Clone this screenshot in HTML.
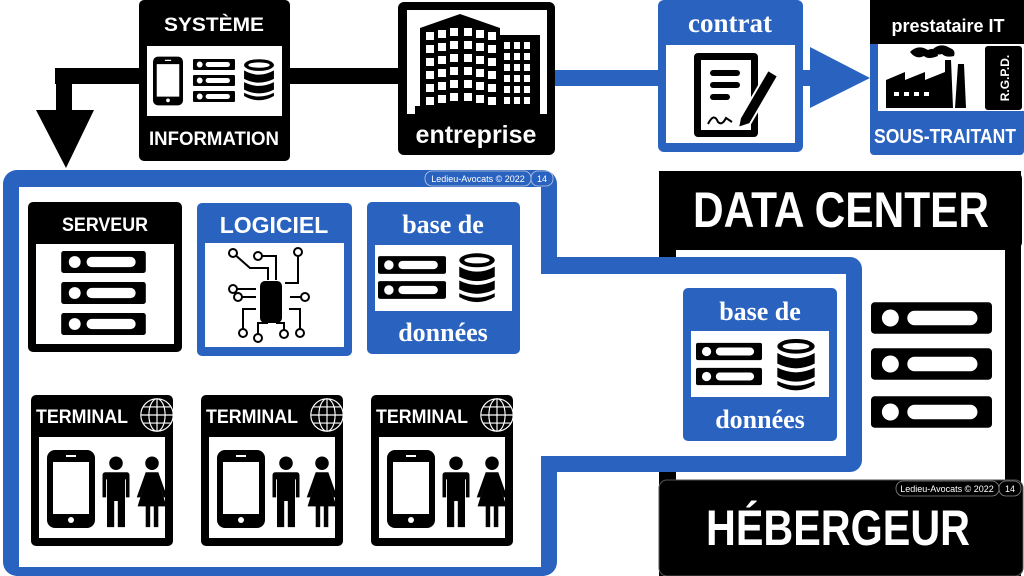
<!DOCTYPE html>
<html><head><meta charset="utf-8"><style>
html,body{margin:0;padding:0;background:#fff;width:1024px;height:576px;overflow:hidden}
svg text{font-family:"Liberation Sans",sans-serif;font-weight:bold}
.ser{font-family:"Liberation Serif",serif;font-weight:bold}
.ol{fill:#fff;font-weight:bold}
</style></head><body>
<svg width="1024" height="576" viewBox="0 0 1024 576" xmlns="http://www.w3.org/2000/svg">
<defs>
<symbol id="srv" viewBox="0 0 100 26"><rect x="0" y="0" width="100" height="26" rx="3" fill="#000"/><circle cx="16" cy="13" r="7" fill="#fff"/><rect x="30" y="7" width="58" height="12" rx="6" fill="#fff"/></symbol>
<symbol id="db" viewBox="0 0 60 80"><ellipse cx="30" cy="12" rx="28" ry="11" fill="#000"/><ellipse cx="30" cy="12" rx="20" ry="5" fill="#fff"/><path d="M2 22 Q30 38 58 22 V38 Q30 52 2 38Z" fill="#000"/><path d="M2 44 Q30 58 58 44 V58 Q30 72 2 58Z" fill="#000"/><path d="M2 64 Q30 78 58 64 V70 Q30 86 2 70Z" fill="#000"/></symbol>
<symbol id="phone" viewBox="0 0 48 78"><rect x="0" y="0" width="48" height="78" rx="8" fill="#000"/><rect x="6" y="12" width="36" height="52" fill="#fff"/><circle cx="24" cy="70" r="3" fill="#fff"/><rect x="19" y="5" width="10" height="2" fill="#fff"/></symbol>
<symbol id="man" viewBox="0 0 30 80"><circle cx="15" cy="8" r="7.5" fill="#000"/><path d="M3 18 H27 Q30 18 30 22 V46 H26 V26 H25 V79 H17 V50 H13 V79 H5 V26 H4 V46 H0 V22 Q0 18 3 18Z" fill="#000"/></symbol>
<symbol id="woman" viewBox="0 0 36 80"><circle cx="18" cy="8" r="7.5" fill="#000"/><path d="M11 18 H25 L35 46 H31 L26 30 L34 56 H25 V79 H20 V56 H16 V79 H11 V56 H2 L10 30 L5 46 H1Z" fill="#000"/></symbol>
<symbol id="globe" viewBox="0 0 40 40"><g fill="none" stroke="#fff" stroke-width="1.3"><circle cx="20" cy="20" r="18"/><ellipse cx="20" cy="20" rx="9" ry="18"/><line x1="20" y1="2" x2="20" y2="38"/><line x1="2" y1="20" x2="38" y2="20"/><line x1="5" y1="11" x2="35" y2="11"/><line x1="5" y1="29" x2="35" y2="29"/></g></symbol>
</defs>

<rect x="55" y="68" width="350" height="16" fill="#000"/>
<rect x="56" y="68" width="16" height="45" fill="#000"/>
<polygon points="36,110 94,110 66,168" fill="#000"/>
<rect x="550" y="70" width="112" height="16" fill="#2a62c0"/>
<rect x="800" y="70" width="14" height="16" fill="#2a62c0"/>
<polygon points="810,47 870,78 810,108" fill="#2a62c0"/>

<rect x="139" y="0" width="151" height="161" rx="5" fill="#000"/>
<rect x="147" y="46" width="135" height="70" fill="#fff"/>
<text x="214" y="31" text-anchor="middle" font-size="19" fill="#fff" textLength="100" lengthAdjust="spacingAndGlyphs">SYSTÈME</text>
<text x="214" y="145" text-anchor="middle" font-size="19" class="ol" textLength="130" lengthAdjust="spacingAndGlyphs">INFORMATION</text>
<use href="#phone" x="153" y="56" width="30" height="50"/>
<use href="#srv" x="193" y="58" width="42" height="13"/>
<use href="#srv" x="193" y="74" width="42" height="13"/>
<use href="#srv" x="193" y="90" width="42" height="13"/>
<use href="#db" x="243" y="56" width="32" height="48"/>

<rect x="398" y="2" width="157" height="153" rx="6" fill="#000"/>
<rect x="407" y="10" width="140" height="104" fill="#fff"/>
<g fill="#000"><polygon points="420,28 460,14 500,28 500,110 420,110"/><rect x="498" y="35" width="42" height="75"/><rect x="415" y="106" width="125" height="8"/></g>
<g fill="#fff">
<g id="w1"><rect x="426" y="32" width="8" height="8"/><rect x="438" y="30" width="8" height="8"/><rect x="450" y="28" width="8" height="8"/><rect x="464" y="28" width="8" height="8"/><rect x="476" y="30" width="8" height="8"/><rect x="488" y="32" width="8" height="8"/></g>
<use href="#w1" y="13"/><use href="#w1" y="26"/><use href="#w1" y="39"/><use href="#w1" y="52"/><use href="#w1" y="65"/>
<g id="w2"><rect x="504" y="42" width="6" height="7"/><rect x="514" y="42" width="6" height="7"/><rect x="524" y="42" width="6" height="7"/></g>
<use href="#w2" y="11"/><use href="#w2" y="22"/><use href="#w2" y="33"/><use href="#w2" y="44"/><use href="#w2" y="55"/>
</g>
<text x="476" y="143" text-anchor="middle" font-size="25" fill="#fff">entreprise</text>

<rect x="658" y="0" width="145" height="152" rx="6" fill="#2a62c0"/>
<rect x="666" y="45" width="129" height="98" fill="#fff"/>
<text x="730" y="32" text-anchor="middle" font-size="27" class="ser" fill="#fff">contrat</text>
<rect x="694" y="53" width="64" height="84" rx="4" fill="#000"/>
<rect x="701" y="60" width="50" height="70" fill="#fff"/>
<g fill="#000"><rect x="710" y="70" width="30" height="6" rx="3"/><rect x="710" y="82" width="30" height="6" rx="3"/><rect x="710" y="94" width="20" height="6" rx="3"/></g>
<polygon points="740,118 768,70 778,76 750,124 738,128" fill="#000" stroke="#fff" stroke-width="2"/>
<path d="M708 124 q6 -12 10 -2 q4 4 8 -4 l6 4" stroke="#000" stroke-width="2" fill="none"/>

<rect x="870" y="0" width="154" height="155" rx="4" fill="#2a62c0"/>
<rect x="870" y="0" width="154" height="44" fill="#000"/>
<rect x="878" y="44" width="146" height="67" fill="#fff"/>
<rect x="985" y="46" width="37" height="64" rx="3" fill="#000"/>
<text x="948" y="32" text-anchor="middle" font-size="18" fill="#fff">prestataire IT</text>
<text transform="translate(1009,78) rotate(-90)" text-anchor="middle" font-size="12" fill="#fff">R.G.P.D.</text>
<path d="M886 108 V80 L905 72 V80 L925 72 V80 L945 72 V60 L951 60 L953 108Z M955 108 L958 64 L964 64 L966 108Z" fill="#000"/>
<g fill="#fff"><rect x="894" y="92" width="5" height="4"/><rect x="904" y="92" width="5" height="4"/><rect x="914" y="92" width="5" height="4"/><rect x="924" y="92" width="5" height="4"/></g>
<path d="M910 52 q8 -8 18 -2 q8 -4 10 6 q-10 4 -14 0 q-8 4 -14 -4Z M932 50 q8 -8 18 -2 q6 2 4 8 q-8 2 -12 -2 q-6 2 -10 -4Z" fill="#000"/>
<text x="945" y="143" text-anchor="middle" font-size="20" class="ol" textLength="142" lengthAdjust="spacingAndGlyphs">SOUS-TRAITANT</text>

<rect x="659" y="171" width="362" height="405" fill="#000"/>
<rect x="676" y="250" width="329" height="230" fill="#fff"/>
<rect x="659" y="171" width="363" height="79" rx="8" fill="#000"/>
<text x="841" y="227" text-anchor="middle" font-size="50" class="ol" textLength="296" lengthAdjust="spacingAndGlyphs">DATA CENTER</text>
<rect x="659" y="480" width="364" height="96" rx="8" fill="#000" stroke="#555" stroke-width="1"/>
<text x="838" y="545" text-anchor="middle" font-size="50" class="ol" textLength="264" lengthAdjust="spacingAndGlyphs">HÉBERGEUR</text>
<rect x="896" y="481" width="103" height="15" rx="7" fill="none" stroke="#888" stroke-width=".8"/>
<rect x="999" y="481" width="22" height="15" rx="7" fill="none" stroke="#888" stroke-width=".8"/>
<text x="947" y="492" text-anchor="middle" font-size="9" fill="#fff" style="font-weight:normal">Ledieu-Avocats © 2022</text>
<text x="1010" y="492" text-anchor="middle" font-size="9" fill="#fff" style="font-weight:normal">14</text>
<use href="#srv" x="871" y="302" width="121" height="32"/>
<use href="#srv" x="871" y="348" width="121" height="32"/>
<use href="#srv" x="871" y="396" width="121" height="32"/>

<rect x="3" y="170" width="554" height="406" rx="14" fill="#2a62c0"/>
<rect x="540" y="257" width="322" height="215" rx="12" fill="#2a62c0"/>
<rect x="19" y="187" width="522" height="380" fill="#fff"/>
<rect x="530" y="274" width="316" height="182" fill="#fff"/>
<rect x="425" y="171" width="106" height="15" rx="7" fill="none" stroke="#bcd" stroke-width=".8"/>
<rect x="531" y="171" width="22" height="15" rx="7" fill="none" stroke="#bcd" stroke-width=".8"/>
<text x="478" y="182" text-anchor="middle" font-size="9" fill="#fff" style="font-weight:normal">Ledieu-Avocats © 2022</text>
<text x="542" y="182" text-anchor="middle" font-size="9" fill="#fff" style="font-weight:normal">14</text>

<rect x="28" y="202" width="154" height="150" rx="5" fill="#000"/>
<rect x="36" y="244" width="138" height="100" fill="#fff"/>
<text x="105" y="231" text-anchor="middle" font-size="19" fill="#fff" textLength="86" lengthAdjust="spacingAndGlyphs">SERVEUR</text>
<use href="#srv" x="61" y="251" width="85" height="22"/>
<use href="#srv" x="61" y="282" width="85" height="22"/>
<use href="#srv" x="61" y="313" width="85" height="22"/>

<rect x="197" y="203" width="155" height="153" rx="5" fill="#2a62c0"/>
<rect x="205" y="243" width="139" height="104" fill="#fff"/>
<text x="274" y="233" text-anchor="middle" font-size="23" fill="#fff">LOGICIEL</text>
<g stroke="#000" stroke-width="2" fill="none">
<rect x="261" y="282" width="20" height="40" rx="4" fill="#000"/>
<path d="M233 253 L250 268 H268 V280 M258 256 H276 V280 M298 252 V283 H285 M233 289 H256 M238 297 H256 M256 309 H243 V330 M290 297 H305 M289 309 H300 V330 M268 323 H258 V335 M276 323 H284 V330"/>
</g>
<g fill="#fff" stroke="#000" stroke-width="2"><circle cx="233" cy="253" r="4"/><circle cx="258" cy="256" r="4"/><circle cx="298" cy="252" r="4"/><circle cx="233" cy="289" r="4"/><circle cx="238" cy="297" r="4"/><circle cx="305" cy="297" r="4"/><circle cx="243" cy="333" r="4"/><circle cx="258" cy="338" r="4"/><circle cx="300" cy="333" r="4"/><circle cx="284" cy="334" r="4"/></g>

<rect x="367" y="202" width="153" height="152" rx="5" fill="#2a62c0"/>
<rect x="375" y="245" width="137" height="66" fill="#fff"/>
<text x="443" y="233" text-anchor="middle" font-size="26" class="ser" fill="#fff">base de</text>
<text x="443" y="341" text-anchor="middle" font-size="26" class="ser" fill="#fff">données</text>
<use href="#srv" x="378" y="255" width="68" height="20"/>
<use href="#srv" x="378" y="280" width="68" height="20"/>
<use href="#db" x="458" y="250" width="38" height="56"/>

<rect x="683" y="288" width="154" height="153" rx="5" fill="#2a62c0"/>
<rect x="691" y="331" width="138" height="66" fill="#fff"/>
<text x="760" y="320" text-anchor="middle" font-size="26" class="ser" fill="#fff">base de</text>
<text x="760" y="428" text-anchor="middle" font-size="26" class="ser" fill="#fff">données</text>
<use href="#srv" x="696" y="342" width="66" height="19"/>
<use href="#srv" x="696" y="367" width="66" height="19"/>
<use href="#db" x="776" y="336" width="40" height="58"/>

<g id="term">
<rect x="31" y="395" width="142" height="151" rx="5" fill="#000"/>
<rect x="39" y="437" width="126" height="101" fill="#fff"/>
<text x="36" y="423" font-size="19" class="ol" textLength="92" lengthAdjust="spacingAndGlyphs">TERMINAL</text>
<use href="#globe" x="139" y="397" width="36" height="36"/>
<use href="#phone" x="47" y="450" width="48" height="78"/>
<use href="#man" x="101" y="456" width="30" height="72"/>
<use href="#woman" x="134" y="456" width="36" height="72"/>
</g>
<use href="#term" x="170"/>
<use href="#term" x="340"/>
</svg>
</body></html>
